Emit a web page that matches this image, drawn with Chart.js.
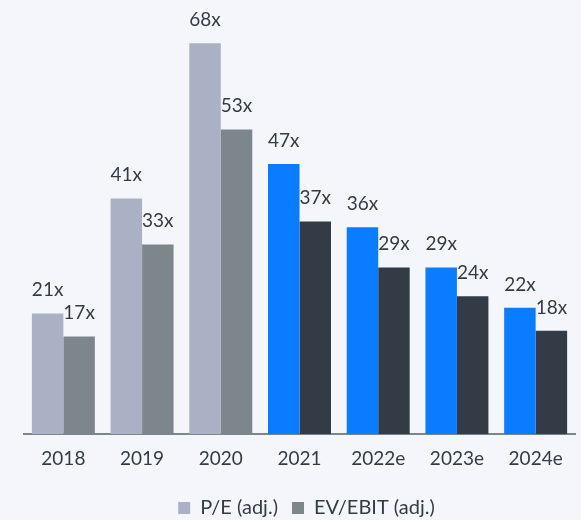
<!DOCTYPE html>
<html>
<head>
<meta charset="utf-8">
<script src="https://cdn.jsdelivr.net/npm/chart.js@4"></script>
<style>
html,body{margin:0;padding:0;background:#f5f6fb;}
#wrap{width:581px;height:520px;position:relative;}
</style>
</head>
<body>
<div id="wrap"><canvas id="c"></canvas></div>
<script>
const categories = ['2018','2019','2020','2021','2022e','2023e','2024e'];
const peValues = [21, 41, 68, 47, 36, 29, 22];
const evValues = [17, 33, 53, 37, 29, 24, 18];
const seriesNames = ['P/E (adj.)', 'EV/EBIT (adj.)'];
const peColors = ['#abb1c4','#abb1c4','#abb1c4','#0a7cff','#0a7cff','#0a7cff','#0a7cff'];
const evColors = ['#7c868b','#7c868b','#7c868b','#333c46','#333c46','#333c46','#333c46'];

const FONT = 'Lato, "Open Sans", sans-serif';
const TEXT = '#333c46';

const labelPlugin = {
  id: 'barLabels',
  afterLayout(chart) {
    if (chart.legend) {
      chart.legend.left += 7; chart.legend.right += 7;
      chart.legend.top += 8; chart.legend.bottom += 8;
    }
  },
  afterDatasetsDraw(chart) {
    const ctx = chart.ctx;
    ctx.save();
    ctx.font = '19px ' + FONT;
    ctx.fillStyle = TEXT;
    ctx.textAlign = 'center';
    ctx.textBaseline = 'alphabetic';
    chart.data.datasets.forEach((ds, i) => {
      const meta = chart.getDatasetMeta(i);
      meta.data.forEach((bar, j) => {
        ctx.fillText(ds.data[j] + 'x', bar.x, bar.y - 17);
      });
    });
    ctx.restore();
  }
};

new Chart(document.getElementById('c'), {
  type: 'bar',
  data: {
    labels: categories,
    datasets: [
      { label: seriesNames[0], data: peValues, backgroundColor: peColors },
      { label: seriesNames[1], data: evValues, backgroundColor: evColors }
    ]
  },
  options: {
    responsive: true,
    maintainAspectRatio: false,
    animation: false,
    layout: { padding: { left: 24, right: 6, top: 3, bottom: 0 } },
    datasets: { bar: { categoryPercentage: 0.8, barPercentage: 1.0 } },
    scales: {
      x: {
        grid: { display: false },
        border: { display: true, color: '#7c868b', width: 2 },
        ticks: { color: TEXT, font: { family: FONT, size: 19 }, padding: 5 },
        afterFit(scale) { scale.height += 1; }
      },
      y: {
        display: false,
        min: 0,
        max: 75
      }
    },
    plugins: {
      legend: {
        position: 'bottom',
        labels: {
          color: TEXT,
          font: { family: FONT, size: 20 },
          boxWidth: 12,
          boxHeight: 12,
          padding: 14
        }
      },
      tooltip: { enabled: false }
    }
  },
  plugins: [labelPlugin]
});
</script>
</body>
</html>
